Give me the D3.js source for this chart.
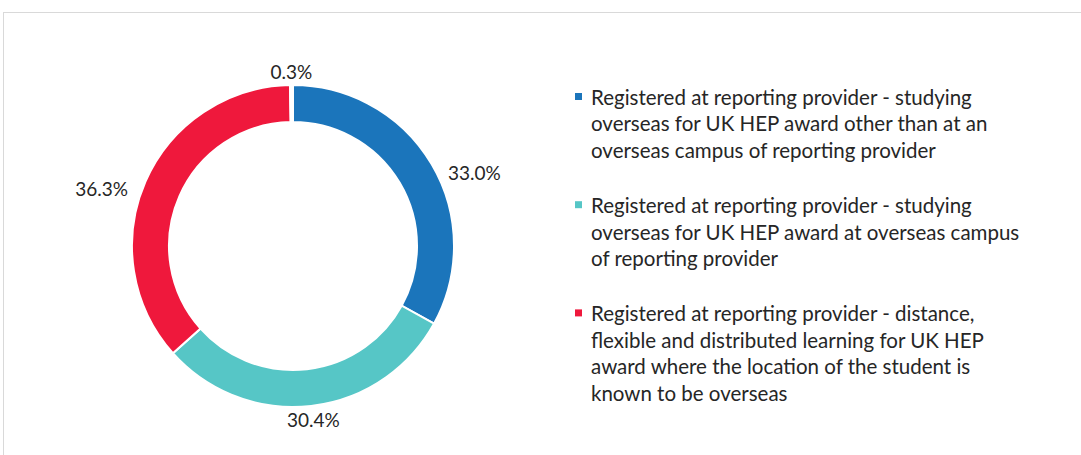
<!DOCTYPE html>
<html>
<head>
<meta charset="utf-8">
<script src="https://cdn.jsdelivr.net/npm/d3@7"></script>
<style>
  body { margin: 0; background: #fff; }
  svg { display: block; font-family: Lato, "Open Sans", sans-serif; }
</style>
</head>
<body>
<div id="chart"></div>
<script>
// chart data
const categories = [
  'Registered at reporting provider - studying overseas for UK HEP award other than at an overseas campus of reporting provider',
  'Registered at reporting provider - studying overseas for UK HEP award at overseas campus of reporting provider',
  'Registered at reporting provider - distance, flexible and distributed learning for UK HEP award where the location of the student is known to be overseas',
  'Other'
]
const values = [33.0, 30.4, 36.3, 0.3]
const valueLabels = ['33.0%', '30.4%', '36.3%', '0.3%']
const colors = ['#1b75bb', '#56c6c6', '#ef183c', '#ffffff']
// legend text is wrapped like the original
const legendLines = [
  ['Registered at reporting provider - studying', 'overseas for UK HEP award other than at an', 'overseas campus of reporting provider'],
  ['Registered at reporting provider - studying', 'overseas for UK HEP award at overseas campus', 'of reporting provider'],
  ['Registered at reporting provider - distance,', 'flexible and distributed learning for UK HEP', 'award where the location of the student is', 'known to be overseas']
]

const width = 1081, height = 455
const cx = 293, cy = 246
const R = 161, r = 124

const svg = d3.select('#chart').append('svg')
  .attr('width', width)
  .attr('height', height)

// frame of the chart area (runs off the right / bottom)
svg.append('rect')
  .attr('x', 3.5).attr('y', 12.5)
  .attr('width', 1100).attr('height', 500)
  .attr('fill', 'none')
  .attr('stroke', '#d9d9d9')

const pie = d3.pie().sort(null).value(d => d)
const arcs = pie(values)

const arc = d3.arc().innerRadius(r).outerRadius(R)

const g = svg.append('g').attr('transform', `translate(${cx},${cy})`)

g.selectAll('path.slice')
  .data(arcs)
  .enter().append('path')
  .attr('class', 'slice')
  .attr('d', arc)
  .attr('fill', (d, i) => colors[i])
  .attr('stroke', '#fff')
  .attr('stroke-width', 2)

// outside-end data labels
const lr = R + 19
g.selectAll('text.lbl')
  .data(arcs)
  .enter().append('text')
  .attr('class', 'lbl')
  .each(function(d, i) {
    let a = (d.startAngle + d.endAngle) / 2
    let s = Math.sin(a), c = Math.cos(a)
    let side = Math.abs(s) > 0.5
    d3.select(this)
      .attr('x', s * lr)
      .attr('y', -c * lr * (side ? 0.8 : 0.97))
      .attr('text-anchor', side ? (s > 0 ? 'start' : 'end') : 'middle')
      .attr('dominant-baseline', 'central')
  })
  .attr('font-size', 19)
  .attr('fill', '#262626')
  .text((d, i) => valueLabels[i])

// legend
const lx = 591, lineH = 26.4, groupGap = 29
let y = 105
const leg = svg.append('g')
legendLines.forEach((lines, i) => {
  leg.append('rect')
    .attr('x', lx - 16).attr('y', y - 12)
    .attr('width', 7).attr('height', 7)
    .attr('fill', colors[i])
  lines.forEach((t, j) => {
    leg.append('text')
      .attr('x', lx).attr('y', y + j * lineH)
      .attr('font-size', 20.5)
      .attr('fill', '#262626')
      .text(t)
  })
  y += lines.length * lineH + groupGap
})
</script>
</body>
</html>
